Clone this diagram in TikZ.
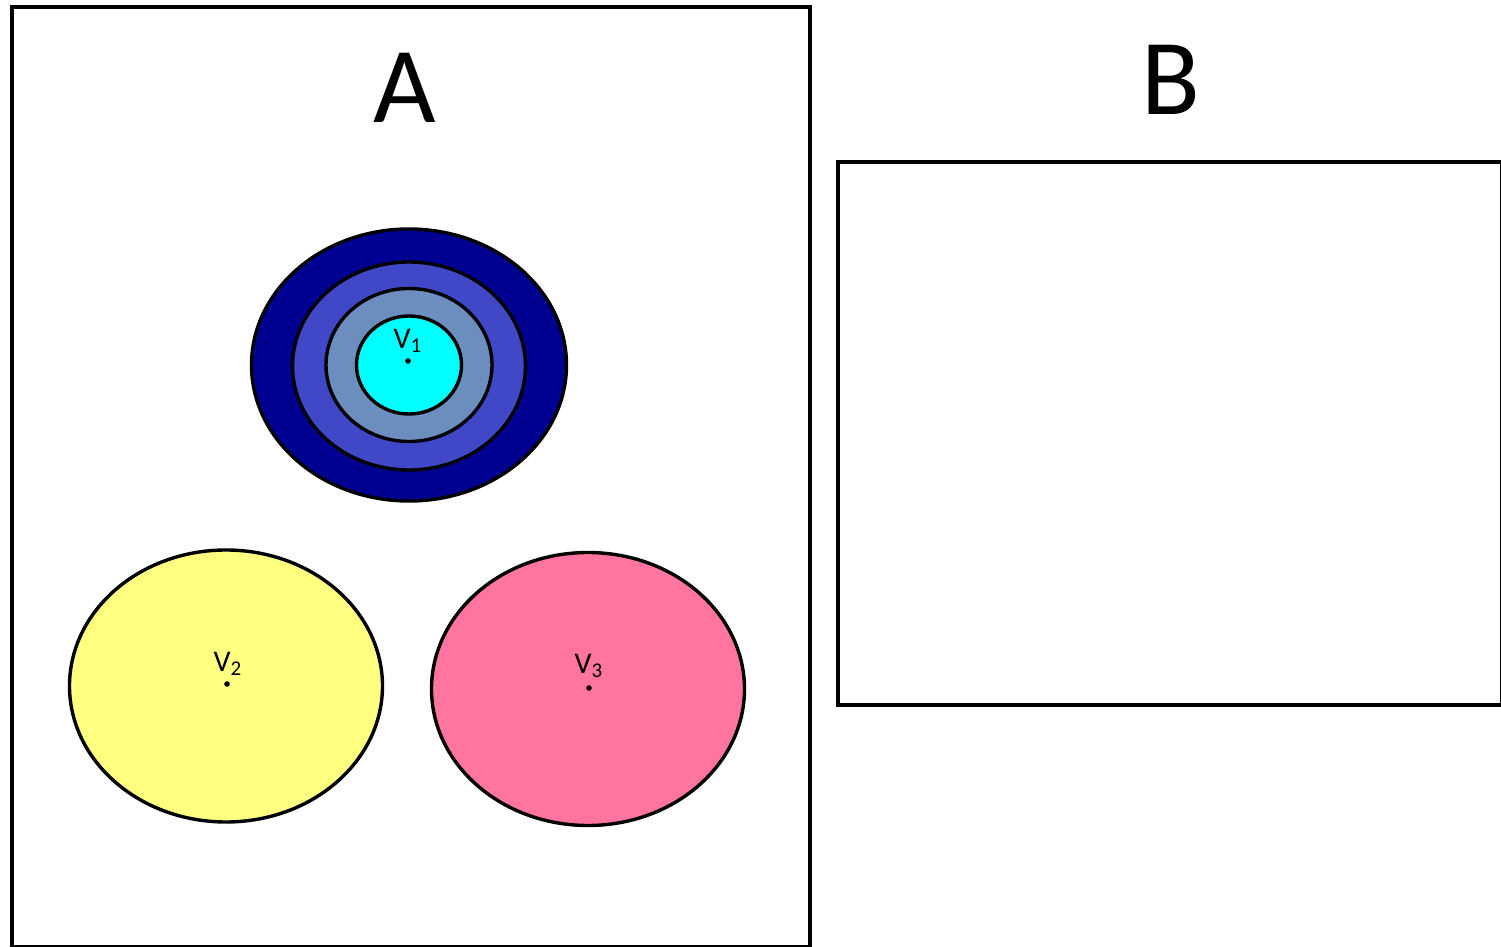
\documentclass[tikz,border=0pt]{standalone}
\usepackage{fontspec}
\setmainfont{Carlito}
\usetikzlibrary{shapes.geometric}
\definecolor{navyA}{RGB}{0,0,145}
\definecolor{blueB}{RGB}{64,72,200}
\definecolor{steelC}{RGB}{108,142,190}
\definecolor{cyanD}{RGB}{0,255,255}
\definecolor{yellowE}{RGB}{255,255,128}
\definecolor{pinkF}{RGB}{255,117,160}
\tikzset{
  panel/.style={draw=black, line width=2pt, fill=white},
  blob/.style={ellipse, draw=black, line width=1.7pt, inner sep=0pt},
  vlabel/.style={font=\fontsize{15}{17}\selectfont, inner sep=0pt},
  vdot/.style={circle, fill=black, inner sep=0pt, minimum size=2.8pt},
  title/.style={font=\fontsize{54}{60}\selectfont, inner sep=0pt}
}
\begin{document}
\begin{tikzpicture}[x=0.5pt,y=-0.5pt]
\useasboundingbox (0,0) rectangle (1501,947);
\node[panel, minimum width=798*0.5pt, minimum height=940*0.5pt, anchor=north west] (boxA) at (10,5) {};
\node[panel, minimum width=664*0.5pt, minimum height=543*0.5pt, anchor=north west] (boxB) at (836,160) {};
\node[title] (tA) at (405,88) {A};
\node[title] (tB) at (1171,80) {B};
% concentric ellipses
\node[blob, fill=navyA, minimum width=315*0.5pt, minimum height=272*0.5pt] (e1) at (409,365) {};
\node[blob, fill=blueB, minimum width=233*0.5pt, minimum height=208*0.5pt] (e2) at (409,366) {};
\node[blob, fill=steelC, minimum width=166*0.5pt, minimum height=153*0.5pt] (e3) at (409,365) {};
\node[blob, fill=cyanD, minimum width=105*0.5pt, minimum height=98*0.5pt] (e4) at (409,365) {};
\node[vdot] (d1) at (408,361) {};
\node[vlabel] (v1) at (408,341) {V\textsubscript{1}};
% yellow
\node[blob, fill=yellowE, minimum width=313*0.5pt, minimum height=272*0.5pt] (e5) at (226,686) {};
\node[vdot] (d2) at (227,684) {};
\node[vlabel] (v2) at (228,664) {V\textsubscript{2}};
% pink
\node[blob, fill=pinkF, minimum width=313*0.5pt, minimum height=273*0.5pt] (e6) at (588,689) {};
\node[vdot] (d3) at (589,688) {};
\node[vlabel] (v3) at (589,666) {V\textsubscript{3}};
\end{tikzpicture}
\end{document}
